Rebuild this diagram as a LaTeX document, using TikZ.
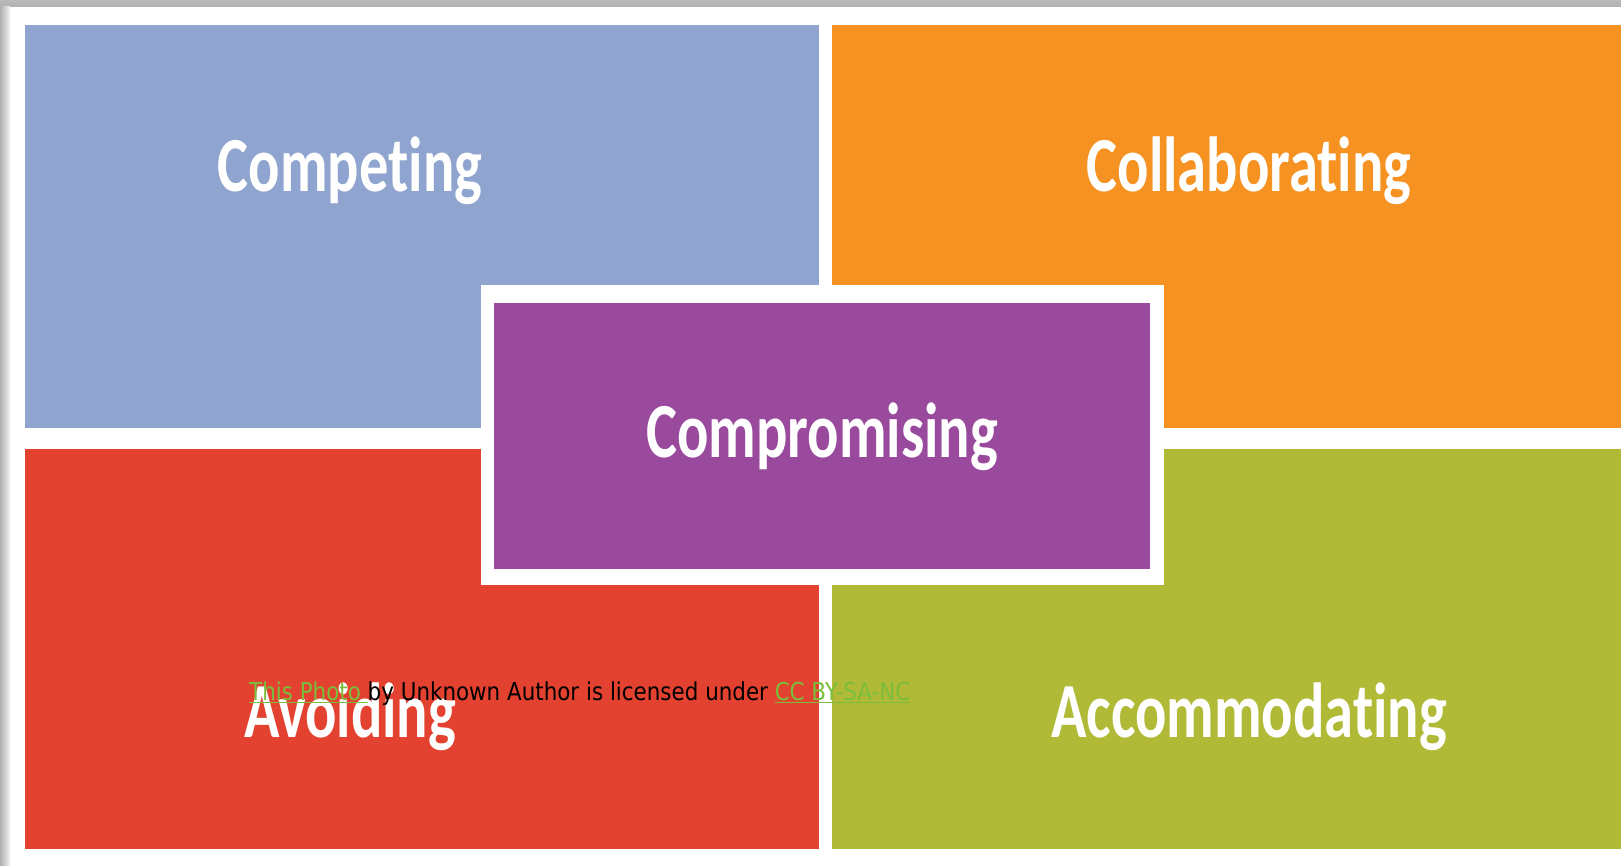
\documentclass[tikz,border=0pt]{standalone}
\usepackage{fontspec}
\newfontfamily\titlefont[FakeStretch=0.75,Ligatures=NoCommon]{Carlito}
\newfontfamily\creditfont[FakeStretch=0.87]{DejaVu Sans}
\definecolor{qblue}{RGB}{143,164,206}
\definecolor{qorange}{RGB}{245,146,34}
\definecolor{qred}{RGB}{227,66,48}
\definecolor{qgreen}{RGB}{176,186,54}
\definecolor{qpurple}{RGB}{154,74,156}
\definecolor{linkgreen}{RGB}{122,190,60}
\definecolor{framegray}{RGB}{176,176,176}
\begin{document}
\begin{tikzpicture}[x=1pt,y=1pt,
  box/.style={draw=none,inner sep=0pt,outer sep=0pt,anchor=south west,rectangle},
  title/.style={anchor=base,text=white,inner sep=0pt,font=\titlefont\bfseries\fontsize{78}{80}\selectfont}]
\useasboundingbox (0,0) rectangle (1621,865);
\fill[white] (0,0) rectangle (1621,865);
% frame edges
\shade[top color=framegray!80!black!60, bottom color=framegray] (0,858) rectangle (1621,865);
\shade[left color=framegray, right color=white!85!framegray] (0,0) rectangle (10,858);
% quadrants
\node[box, fill=qblue, minimum width=794pt, minimum height=403pt] (competing) at (25,437) {};
\node[box, fill=qorange, minimum width=789pt, minimum height=403pt] (collaborating) at (832,437) {};
\node[box, fill=qred, minimum width=794pt, minimum height=400pt] (avoiding) at (25,16) {};
\node[box, fill=qgreen, minimum width=789pt, minimum height=400pt] (accommodating) at (832,16) {};
% centre box
\node[box, fill=white, minimum width=683pt, minimum height=300pt] (frame) at (481,280) {};
\node[box, fill=qpurple, minimum width=656pt, minimum height=266pt] (compromising) at (494,296) {};
% titles
\node[title] (tcompeting) at (350,673) {Competing};
\node[title] (tcollaborating) at (1249,673) {Collaborating};
\node[title] (tcompromising) at (822,407) {Compromising};
\node[title] (tavoiding) at (350,128) {Avoiding};
\node[title] (taccommodating) at (1249,128) {Accommodating};
% credit line
\node[anchor=base west, inner sep=0pt] (credit) at (249,165)
  {\resizebox{661pt}{!}{\creditfont\fontsize{23}{25}\selectfont\textcolor{linkgreen}{\underline{This Photo }}by Unknown Author is licensed under \textcolor{linkgreen}{\underline{CC BY-SA-NC}}}};
\end{tikzpicture}
\end{document}
